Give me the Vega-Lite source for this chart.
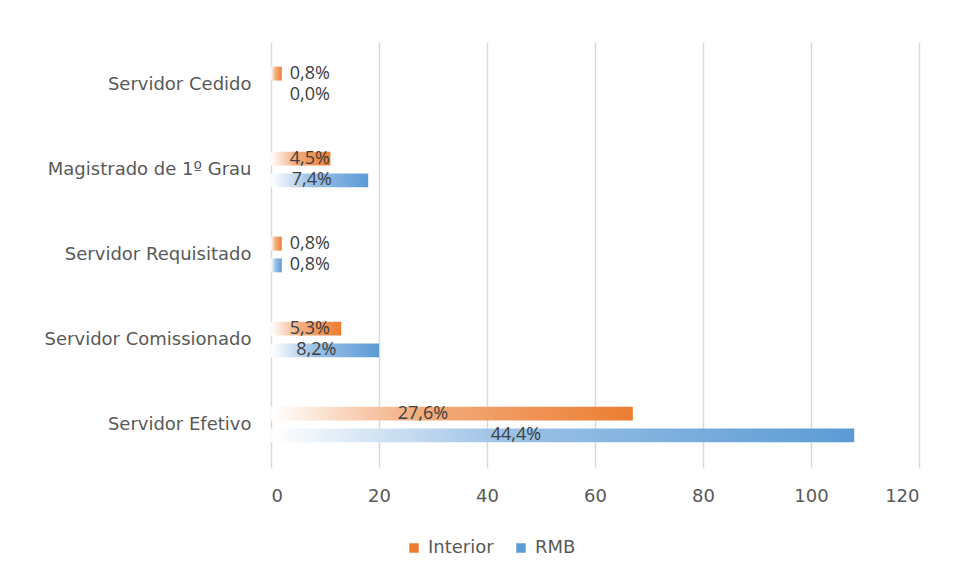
{
  "$schema": "https://vega.github.io/schema/vega-lite/v6.json",
  "autosize": "none",
  "width": 648,
  "height": 425,
  "padding": {"left": 271, "top": 42, "right": 35, "bottom": 118},
  "background": "#ffffff",
  "config": {
    "font": "Open Sans",
    "view": {"stroke": null},
    "axis": {"labelFont": "DejaVu Sans", "labelColor": "#595959", "labelFontSize": 18}
  },
  "data": {
    "values": [
      {"cat": "Servidor Cedido", "serie": "Interior", "valor": 2, "rotulo": "0,8%"},
      {"cat": "Servidor Cedido", "serie": "RMB", "valor": 0, "rotulo": "0,0%"},
      {"cat": "Magistrado de 1º Grau", "serie": "Interior", "valor": 11, "rotulo": "4,5%"},
      {"cat": "Magistrado de 1º Grau", "serie": "RMB", "valor": 18, "rotulo": "7,4%"},
      {"cat": "Servidor Requisitado", "serie": "Interior", "valor": 2, "rotulo": "0,8%"},
      {"cat": "Servidor Requisitado", "serie": "RMB", "valor": 2, "rotulo": "0,8%"},
      {"cat": "Servidor Comissionado", "serie": "Interior", "valor": 13, "rotulo": "5,3%"},
      {"cat": "Servidor Comissionado", "serie": "RMB", "valor": 20, "rotulo": "8,2%"},
      {"cat": "Servidor Efetivo", "serie": "Interior", "valor": 67, "rotulo": "27,6%"},
      {"cat": "Servidor Efetivo", "serie": "RMB", "valor": 108, "rotulo": "44,4%"}
    ]
  },
  "encoding": {
    "y": {
      "field": "cat", "type": "nominal", "title": null,
      "sort": ["Servidor Cedido", "Magistrado de 1º Grau", "Servidor Requisitado", "Servidor Comissionado", "Servidor Efetivo"],
      "scale": {"paddingInner": 0.58, "paddingOuter": 0.29},
      "axis": {"ticks": false, "domain": false, "grid": false, "labelPadding": 20, "labelLimit": 300}
    },
    "yOffset": {
      "field": "serie", "type": "nominal",
      "scale": {"domain": ["Interior", "RMB"], "paddingInner": 0.36, "paddingOuter": 0}
    }
  },
  "layer": [
    {
      "mark": {"type": "bar", "opacity": 0},
      "encoding": {
        "x": {
          "field": "valor", "type": "quantitative", "title": null,
          "scale": {"domain": [0, 120]},
          "axis": {"values": [0, 20, 40, 60, 80, 100, 120], "ticks": false, "domain": false, "grid": true, "gridColor": "#D9D9D9", "gridWidth": 1.5, "labelPadding": 20}
        },
        "color": {
          "field": "serie", "type": "nominal",
          "scale": {"domain": ["Interior", "RMB"], "range": ["#ED7D31", "#5B9BD5"]},
          "legend": {
            "title": null, "orient": "none", "legendX": 134, "legendY": 497, "direction": "horizontal", "symbolType": "square",
            "symbolSize": 90, "symbolOpacity": 1, "symbolStrokeWidth": 0, "labelFontSize": 18, "labelColor": "#595959",
            "labelFont": "DejaVu Sans", "columnPadding": 18, "labelOffset": 5
          }
        }
      }
    },
    {
      "transform": [{"filter": "datum.serie === 'Interior'"}],
      "mark": {
        "type": "bar",
        "fill": {"gradient": "linear", "x1": 0, "y1": 0, "x2": 1, "y2": 0,
          "stops": [{"offset": 0, "color": "#ffffff"}, {"offset": 0.4, "color": "#F3AE80"}, {"offset": 1, "color": "#ED7D31"}]}
      },
      "encoding": {"x": {"field": "valor", "type": "quantitative"}}
    },
    {
      "transform": [{"filter": "datum.serie === 'RMB'"}],
      "mark": {
        "type": "bar",
        "fill": {"gradient": "linear", "x1": 0, "y1": 0, "x2": 1, "y2": 0,
          "stops": [{"offset": 0, "color": "#ffffff"}, {"offset": 0.4, "color": "#9CC2E6"}, {"offset": 1, "color": "#5B9BD5"}]}
      },
      "encoding": {"x": {"field": "valor", "type": "quantitative"}}
    },
    {
      "transform": [{"calculate": "max(7.2, datum.valor * 0.42)", "as": "pos"}],
      "mark": {"type": "text", "align": "center", "baseline": "middle", "fontSize": 18, "color": "#404040", "font": "Open Sans"},
      "encoding": {
        "x": {"field": "pos", "type": "quantitative"},
        "text": {"field": "rotulo"}
      }
    }
  ]
}
